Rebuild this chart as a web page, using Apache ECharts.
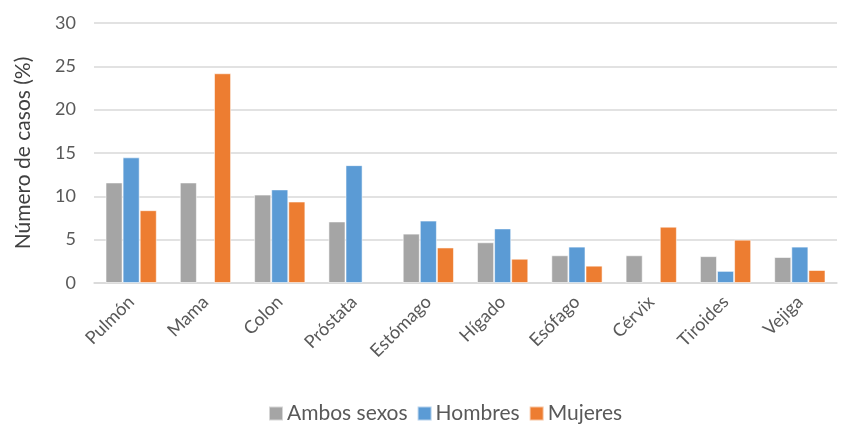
<!DOCTYPE html>
<html>
<head>
<meta charset="utf-8">
<script src="https://cdn.jsdelivr.net/npm/echarts@6/dist/echarts.min.js"></script>
<style>
  html, body { margin: 0; padding: 0; background: #fff; }
  #chart { width: 847px; height: 426px; }
</style>
</head>
<body>
<div id="chart"></div>
<script>
// Cancer types and share of cases (%) by sex
const categories = ['Pulmón', 'Mama', 'Colon', 'Próstata', 'Estómago', 'Hígado', 'Esófago', 'Cérvix', 'Tiroides', 'Vejiga'];
const ambosSexos = [11.6, 11.6, 10.2, 7.1, 5.7, 4.7, 3.2, 3.2, 3.1, 3.0];
const hombres    = [14.5, null, 10.8, 13.6, 7.2, 6.3, 4.2, null, 1.4, 4.2];
const mujeres    = [8.4, 24.2, 9.4, null, 4.1, 2.8, 2.0, 6.5, 5.0, 1.5];
const yTicks = { min: 0, max: 30, interval: 5 };

const FONT = 'Lato, "Open Sans", sans-serif';
const TEXT = '#595959';

const chart = echarts.init(document.getElementById('chart'), null, { renderer: 'canvas' });

function barSeries(name, data, color) {
  return {
    name: name,
    type: 'bar',
    data: data,
    barGap: '0%',
    barCategoryGap: '31%',
    itemStyle: { color: color, borderColor: 'rgba(255,255,255,0.55)', borderWidth: 1 }
  };
}

chart.setOption({
  animation: false,
  textStyle: { fontFamily: FONT },
  grid: { left: 94, right: 10, top: 23, bottom: 143 },
  legend: {
    bottom: -3,
    left: 263,
    itemWidth: 14,
    itemHeight: 14,
    itemGap: 9,
    icon: 'rect',
    textStyle: { fontFamily: FONT, fontSize: 21, color: TEXT, padding: [0, 0, 0, -1] },
    data: ['Ambos sexos', 'Hombres', 'Mujeres']
  },
  xAxis: {
    type: 'category',
    data: categories,
    axisLine: { show: true, lineStyle: { color: '#d9d9d9', width: 1.5 } },
    axisTick: { show: false },
    axisLabel: {
      rotate: 45,
      interval: 0,
      margin: 16,
      fontFamily: FONT,
      fontSize: 18,
      color: TEXT
    }
  },
  yAxis: {
    type: 'value',
    min: yTicks.min,
    max: yTicks.max,
    interval: yTicks.interval,
    name: 'Número de casos (%)',
    nameLocation: 'middle',
    nameGap: 60,
    nameTextStyle: { fontFamily: FONT, fontSize: 21, color: '#404040' },
    axisLine: { show: false },
    axisTick: { show: false },
    axisLabel: { margin: 18, fontFamily: FONT, fontSize: 18, color: TEXT },
    splitLine: { lineStyle: { color: '#d9d9d9', width: 1.5 } }
  },
  series: [
    barSeries('Ambos sexos', ambosSexos, '#a5a5a5'),
    barSeries('Hombres', hombres, '#5b9bd5'),
    barSeries('Mujeres', mujeres, '#ed7d31')
  ]
});
</script>
</body>
</html>
